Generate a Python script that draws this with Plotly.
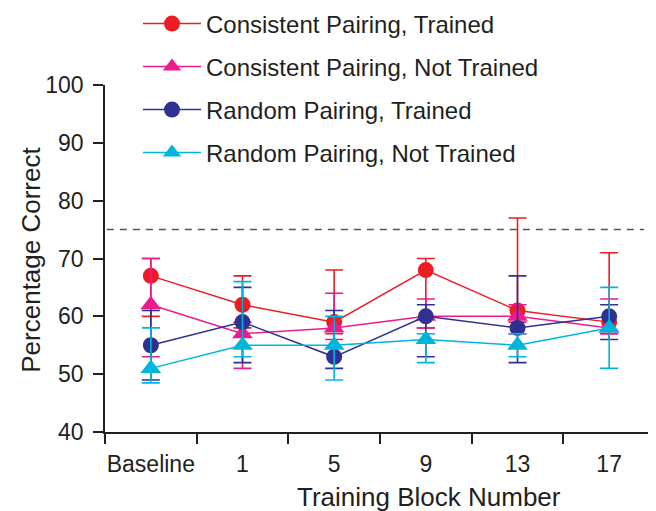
import plotly.graph_objects as go

categories = ["Baseline", "1", "5", "9", "13", "17"]

cons_trained = [67, 62, 59, 68, 61, 59]
cons_trained_plus = [3, 5, 9, 2, 16, 12]
cons_trained_minus = [7, 4, 2, 10, 2, 2]

cons_not = [62, 57, 58, 60, 60, 58]
cons_not_plus = [8, 2, 6, 3, 2, 5]
cons_not_minus = [9, 6, 2, 2, 3, 1]

rand_trained = [55, 59, 53, 60, 58, 60]
rand_trained_plus = [6, 6, 8, 2, 9, 2]
rand_trained_minus = [6, 7, 2, 7, 6, 4]

rand_not = [51, 55, 55, 56, 55, 58]
rand_not_plus = [7, 11, 5, 1, 2, 7]
rand_not_minus = [2.5, 2, 6, 4, 2, 7]

criterion = 75

x_title = "Training Block Number"
y_title = "Percentage Correct"

series = [
    ("Consistent Pairing, Trained", cons_trained, cons_trained_plus, cons_trained_minus, "#ED1C24", "circle", 16),
    ("Consistent Pairing, Not Trained", cons_not, cons_not_plus, cons_not_minus, "#EC1B8C", "triangle-up", 18),
    ("Random Pairing, Trained", rand_trained, rand_trained_plus, rand_trained_minus, "#2E3192", "circle", 16),
    ("Random Pairing, Not Trained", rand_not, rand_not_plus, rand_not_minus, "#00B5DB", "triangle-up", 18),
]

FONT = "Liberation Sans, Arial, sans-serif"
TXT = "#231F20"

# page body adds an 8px offset; figure is sized so the visible layout matches
W, H = 648, 503

fig = go.Figure()
legend_names = ["legend", "legend2", "legend3", "legend4"]
legend_px_y = [16, 59, 102, 145]

for i, (name, vals, plus, minus, color, sym, size) in enumerate(series):
    fig.add_trace(go.Scatter(
        x=categories, y=vals, name=name, mode="lines+markers",
        line=dict(color=color, width=1.5),
        marker=dict(symbol=sym, size=size, color=color),
        error_y=dict(type="data", symmetric=False, array=plus, arrayminus=minus,
                     color=color, thickness=1.6, width=9),
        legend=legend_names[i],
    ))

fig.add_shape(type="line", xref="x", yref="y", x0=-0.48, x1=5.38, y0=criterion, y1=criterion,
              line=dict(color="#555555", width=1.5, dash="7px,6px"), layer="below")

layout_legends = {}
for i, ln in enumerate(legend_names):
    layout_legends[ln] = dict(
        xref="container", yref="container",
        x=130 / W, y=1 - legend_px_y[i] / H,
        xanchor="left", yanchor="middle",
        font=dict(family=FONT, size=24, color=TXT),
        bgcolor="rgba(0,0,0,0)", itemwidth=58,
    )

fig.update_layout(
    width=W, height=H,
    margin=dict(l=97, r=1, t=77, b=79, autoexpand=False),
    paper_bgcolor="white", plot_bgcolor="white",
    font=dict(family=FONT, color=TXT),
    showlegend=True,
    annotations=[
        dict(text=x_title, xref="paper", yref="paper", x=0.589, y=-0.186,
             xanchor="center", yanchor="middle", showarrow=False,
             font=dict(family=FONT, size=26, color=TXT)),
        dict(text=y_title, xref="paper", yref="paper", x=-0.136, y=0.497,
             xanchor="center", yanchor="middle", showarrow=False, textangle=-90,
             font=dict(family=FONT, size=26, color=TXT)),
    ],
    **layout_legends,
)

fig.update_xaxes(
    type="category", range=[-0.5, 5.5], tickson="boundaries",
    showline=True, linecolor=TXT, linewidth=1.5,
    ticks="outside", ticklen=10, tickwidth=1.5, tickcolor=TXT,
    showgrid=False, zeroline=False, tickangle=0,
    tickfont=dict(family=FONT, size=23, color=TXT), ticklabelstandoff=11,
)
fig.update_yaxes(
    range=[40, 100], dtick=10, tick0=40,
    showline=True, linecolor=TXT, linewidth=1.5,
    ticks="outside", ticklen=10, tickwidth=1.5, tickcolor=TXT,
    showgrid=False, zeroline=False,
    tickfont=dict(family=FONT, size=23, color=TXT), ticklabelstandoff=5,
)

fig.write_html("out.html")
